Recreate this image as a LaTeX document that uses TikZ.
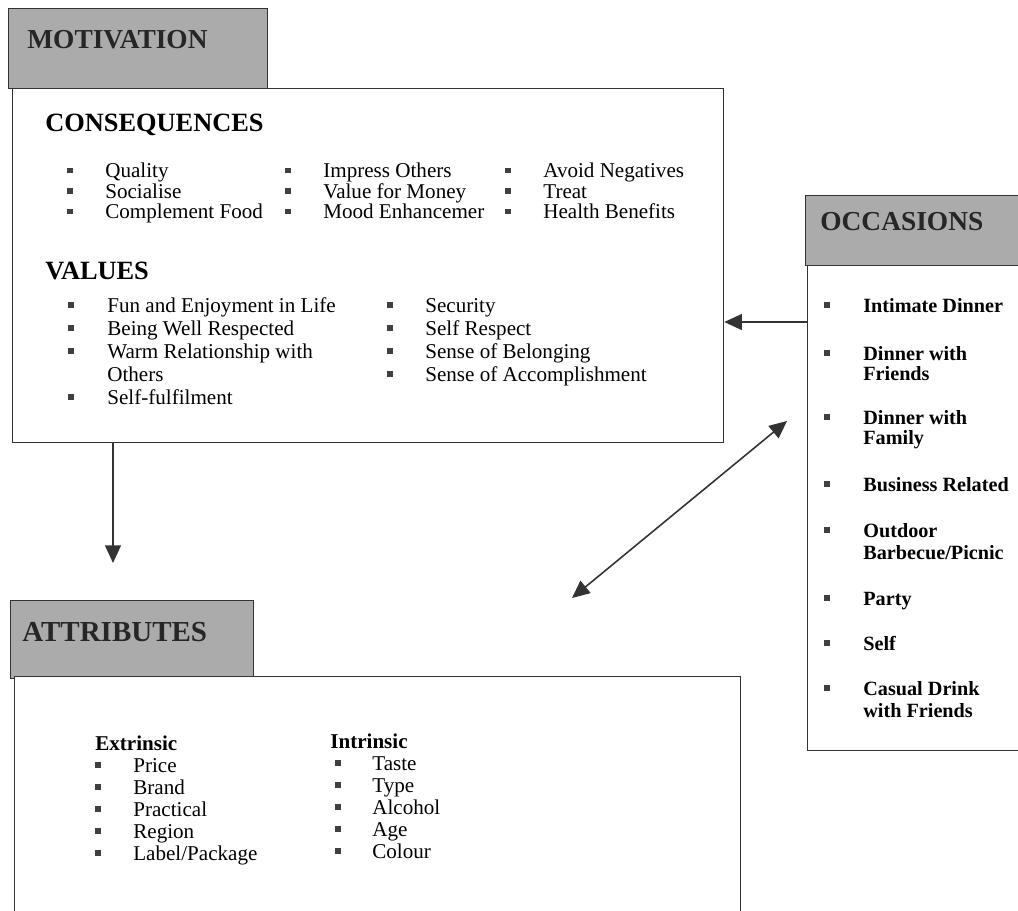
\documentclass[tikz,border=0pt]{standalone}
\usepackage{fontspec}
\setmainfont{Liberation Serif}
\usetikzlibrary{arrows.meta}

\begin{document}
\begin{tikzpicture}[x=0.02cm, y=-0.02cm,
	box/.style={draw=black!80, line width=0.8pt, fill=white, anchor=north west, inner sep=0pt},
	head/.style={box, fill=black!33},
	title/.style={anchor=west, inner sep=0pt, font=\fontsize{15}{18}\selectfont\bfseries},
	htitle/.style={title, text=black!85, font=\fontsize{15.6}{18}\selectfont\bfseries},
	txt/.style={anchor=west, inner sep=0pt, yshift=-0.05cm, font=\fontsize{12}{14}\selectfont, execute at begin node=\strut},
	btxt/.style={txt, font=\fontsize{11.5}{14}\selectfont\bfseries},
	bul/.style={fill=black!75, minimum size=3.4pt, inner sep=0pt},
	tip/.tip={Triangle[length=10pt,width=9pt]},
	arr/.style={draw=black!80, line width=0.9pt, -tip}]
	\useasboundingbox (0,0) rectangle (1018,910);
	\clip (0,0) rectangle (1018,910);

	% motivation
	\node[head, minimum width=5.18cm, minimum height=1.6cm] (mothead) at (8,8) {};
	\node[box, minimum width=14.22cm, minimum height=7.08cm] (mot) at (12,88) {};
	\node[htitle] (motlbl) at (27,40) {MOTIVATION};

	\node[title] (cons) at (45,125) {CONSEQUENCES};
	\foreach \t [count=\i] in {Quality, Socialise, Complement Food} {
		\node[bul] (cba\i) at (70,150+20.5*\i) {};
		\node[txt] (cta\i) at (105,150+20.5*\i) {\t};
	}
	\foreach \t [count=\i] in {Impress Others, Value for Money, Mood Enhancemer} {
		\node[bul] (cbb\i) at (288,150+20.5*\i) {};
		\node[txt] (ctb\i) at (323,150+20.5*\i) {\t};
	}
	\foreach \t [count=\i] in {Avoid Negatives, Treat, Health Benefits} {
		\node[bul] (cbc\i) at (508,150+20.5*\i) {};
		\node[txt] (ctc\i) at (543,150+20.5*\i) {\t};
	}

	\node[title] (val) at (45,271) {VALUES};
	\foreach \y/\t [count=\i] in {305/Fun and Enjoyment in Life, 328/Being Well Respected, 351/Warm Relationship with, 374/Others, 397/Self-fulfilment}
		\node[txt] (vta\i) at (107,\y) {\t};
	\foreach \y [count=\i] in {305,328,351,397}
		\node[bul] (vba\i) at (71,\y) {};
	\foreach \t [count=\i] in {Security, Self Respect, Sense of Belonging, Sense of Accomplishment} {
		\node[bul] (vbb\i) at (390,282+23*\i) {};
		\node[txt] (vtb\i) at (425,282+23*\i) {\t};
	}

	% occasions
	\node[head, minimum width=4.64cm, minimum height=1.4cm] (occhead) at (805,195) {};
	\node[box, minimum width=4.6cm, minimum height=9.7cm] (occ) at (807,265) {};
	\node[htitle] (occlbl) at (820,222) {OCCASIONS};
	\foreach \y/\t [count=\i] in {305/Intimate Dinner, 353/Dinner with, 373/Friends, 417/Dinner with, 437/Family, 484/Business Related, 530/Outdoor, 552/{Barbecue/Picnic}, 598/Party, 643/Self, 688/Casual Drink, 710/with Friends}
		\node[btxt] (ot\i) at (863,\y) {\t};
	\foreach \y [count=\i] in {305,353,417,484,530,598,643,688}
		\node[bul] (ob\i) at (827,\y) {};

	% attributes
	\node[head, minimum width=4.86cm, minimum height=1.56cm] (atthead) at (10,600) {};
	\node[box, minimum width=14.52cm, minimum height=5.2cm] (att) at (14,676) {};
	\node[htitle, font=\fontsize{16.5}{18}\selectfont\bfseries] (attlbl) at (22,632) {ATTRIBUTES};
	\node[txt, font=\fontsize{12}{14}\selectfont\bfseries] (ext) at (95,743) {Extrinsic};
	\foreach \t [count=\i] in {Price, Brand, Practical, Region, {Label/Package}} {
		\node[bul] (eb\i) at (98,743+22*\i) {};
		\node[txt] (et\i) at (133,743+22*\i) {\t};
	}
	\node[txt, font=\fontsize{12}{14}\selectfont\bfseries] (int) at (330,741) {Intrinsic};
	\foreach \t [count=\i] in {Taste, Type, Alcohol, Age, Colour} {
		\node[bul] (ib\i) at (338,741+22*\i) {};
		\node[txt] (it\i) at (372,741+22*\i) {\t};
	}

	% connectors
	\coordinate (dnend) at (113,563);
	\coordinate (lvl) at (0,322);
	\coordinate (dA) at (572,598);
	\coordinate (dB) at (787,421);
	\draw[arr] (mot.south -| dnend) -- (dnend);
	\draw[arr] (occ.west |- lvl) -- (mot.east |- lvl);
	\draw[arr, tip-tip] (dA) -- (dB);
\end{tikzpicture}
\end{document}
